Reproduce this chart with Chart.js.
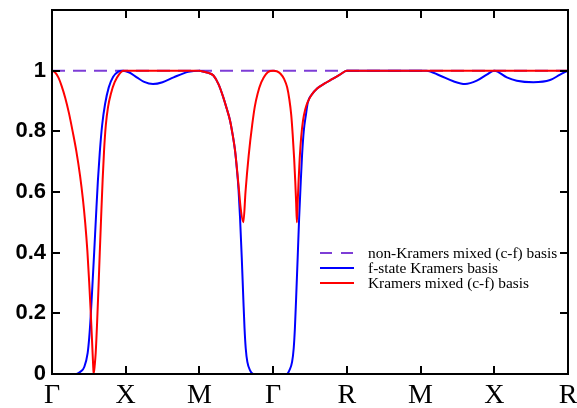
<!DOCTYPE html>
<html>
<head>
<meta charset="utf-8">
<script src="https://cdn.jsdelivr.net/npm/chart.js@4.4.0/dist/chart.umd.min.js"></script>
<style>
  html, body { margin: 0; padding: 0; background: #fff; }
  #plot { display: block; }
</style>
</head>
<body>
<canvas id="plot" width="577" height="408"></canvas>
<script>
// path labels along the bottom, value labels on the left
const xTickLabels = ['Γ', 'X', 'M', 'Γ', 'R', 'M', 'X', 'R'];
const yTickLabels = ['0', '0.2', '0.4', '0.6', '0.8', '1', ''];
const seriesNames = ['non-Kramers mixed (c-f) basis', 'f-state Kramers basis', 'Kramers mixed (c-f) basis'];

// non-Kramers mixed basis (dashed)
const dashX = [0, 7];
const dashY = [1, 1];

// f-state Kramers basis
const blueX = [0, 0.33, 0.389, 0.439, 0.484, 0.505, 0.525, 0.548, 0.572, 0.597, 0.622, 0.648, 0.68, 0.72, 0.77, 0.83, 0.9, 0.96,
  1.05, 1.15, 1.25, 1.37, 1.5, 1.65, 1.85, 2.0,
  2.05, 2.12, 2.19, 2.26, 2.324, 2.37, 2.415, 2.45, 2.483, 2.51, 2.53, 2.551, 2.574, 2.596, 2.612, 2.628, 2.65, 2.687, 2.732,
  3.185, 3.22, 3.257, 3.279, 3.295, 3.311, 3.333, 3.352, 3.372, 3.392, 3.415, 3.445, 3.47, 3.52, 3.6, 3.7, 3.8, 3.9, 4.0,
  5.08, 5.26, 5.445, 5.604, 5.763, 5.898, 6.0, 6.17, 6.305, 6.53, 6.757, 6.893, 7.0];
const blueY = [0, 0, 0.008, 0.024, 0.07, 0.12, 0.19, 0.29, 0.40, 0.52, 0.635, 0.73, 0.82, 0.89, 0.945, 0.98, 0.997, 1.0,
  0.994, 0.978, 0.963, 0.956, 0.962, 0.978, 0.996, 1.0,
  0.997, 0.993, 0.984, 0.955, 0.912, 0.875, 0.836, 0.79, 0.737, 0.67, 0.61, 0.515, 0.385, 0.245, 0.15, 0.085, 0.04, 0.012, 0,
  0, 0.012, 0.04, 0.085, 0.15, 0.245, 0.385, 0.51, 0.62, 0.72, 0.8, 0.855, 0.895, 0.92, 0.942, 0.958, 0.972, 0.986, 1.0,
  1.0, 0.984, 0.965, 0.956, 0.967, 0.987, 1.0, 0.978, 0.967, 0.962, 0.969, 0.987, 1.0];

// Kramers mixed basis
const redX = [0, 0.04, 0.086, 0.13, 0.18, 0.23, 0.28, 0.33, 0.38, 0.42, 0.45, 0.48, 0.505, 0.525, 0.545, 0.56, 0.565,
  0.58, 0.593, 0.612, 0.63, 0.648, 0.667, 0.687, 0.707, 0.73, 0.76, 0.8, 0.85, 0.91, 0.97, 2.0,
  2.05, 2.12, 2.19, 2.26, 2.324, 2.37, 2.415, 2.45, 2.483, 2.51, 2.535, 2.56, 2.596,
  2.625, 2.645, 2.668, 2.69, 2.715, 2.75, 2.79, 2.84, 2.9, 2.96, 3.0,
  3.05, 3.1, 3.15, 3.19, 3.22, 3.245, 3.265, 3.285, 3.3, 3.312, 3.322,
  3.332, 3.345, 3.36, 3.38, 3.405, 3.435, 3.47, 3.52, 3.6, 3.7, 3.8, 3.9, 4.0, 7.0];
const redY = [1, 0.995, 0.978, 0.95, 0.91, 0.86, 0.8, 0.735, 0.655, 0.575, 0.5, 0.405, 0.3, 0.205, 0.1, 0.02, 0,
  0.03, 0.07, 0.17, 0.28, 0.40, 0.52, 0.64, 0.74, 0.82, 0.88, 0.925, 0.962, 0.988, 1.0, 1.0,
  0.997, 0.993, 0.984, 0.955, 0.912, 0.875, 0.836, 0.79, 0.737, 0.675, 0.61, 0.545, 0.5,
  0.6, 0.66, 0.72, 0.77, 0.82, 0.88, 0.925, 0.962, 0.988, 0.999, 1.0,
  0.998, 0.99, 0.972, 0.945, 0.905, 0.855, 0.79, 0.71, 0.635, 0.565, 0.5,
  0.56, 0.635, 0.71, 0.78, 0.835, 0.872, 0.897, 0.92, 0.942, 0.958, 0.972, 0.986, 1.0, 1.0];

const dashColor = '#7d3dd6';
const blueColor = '#0000ff';
const redColor = '#ff0000';

const toPoints = (xs, ys) => xs.map((x, i) => ({ x: x, y: ys[i] }));

// box round the plot, ticks pointing inwards, legend inside the plot
const framePlugin = {
    id: 'frame',
    afterDatasetsDraw(chart) {
        const ctx = chart.ctx;
        const a = chart.chartArea;
        const xs = chart.scales.x;
        const ys = chart.scales.y;
        ctx.save();
        ctx.strokeStyle = '#000';
        ctx.lineWidth = 2;
        ctx.beginPath();
        xs.ticks.forEach(t => {
            const px = Math.round(xs.getPixelForValue(t.value));
            ctx.moveTo(px, a.bottom); ctx.lineTo(px, a.bottom - 8);
            ctx.moveTo(px, a.top); ctx.lineTo(px, a.top + 8);
        });
        ys.ticks.forEach(t => {
            const py = Math.round(ys.getPixelForValue(t.value));
            ctx.moveTo(a.left, py); ctx.lineTo(a.left + 8, py);
            ctx.moveTo(a.right, py); ctx.lineTo(a.right - 8, py);
        });
        ctx.stroke();
        ctx.strokeRect(a.left, a.top, a.right - a.left, a.bottom - a.top);

        const rows = [
            { name: seriesNames[0], color: dashColor, dash: [12, 9] },
            { name: seriesNames[1], color: blueColor, dash: [] },
            { name: seriesNames[2], color: redColor, dash: [] },
        ];
        ctx.font = '15.4px "Liberation Serif"';
        ctx.textBaseline = 'middle';
        ctx.textAlign = 'left';
        rows.forEach((r, i) => {
            const y = 253 + i * 15;
            ctx.strokeStyle = r.color;
            ctx.setLineDash(r.dash);
            ctx.beginPath();
            ctx.moveTo(320, y); ctx.lineTo(354, y);
            ctx.stroke();
            ctx.setLineDash([]);
            ctx.fillStyle = '#000';
            ctx.fillText(r.name, 368, y + 1);
        });
        ctx.restore();
    },
};

new Chart(document.getElementById('plot').getContext('2d'), {
    type: 'line',
    data: {
        datasets: [
            {
                label: seriesNames[0],
                data: toPoints(dashX, dashY),
                borderColor: dashColor,
                borderWidth: 2,
                borderDash: [13, 8],
                pointRadius: 0,
                order: 3,
            },
            {
                label: seriesNames[1],
                data: toPoints(blueX, blueY),
                borderColor: blueColor,
                borderWidth: 2,
                pointRadius: 0,
                cubicInterpolationMode: 'monotone',
                order: 2,
            },
            {
                label: seriesNames[2],
                data: toPoints(redX, redY),
                borderColor: redColor,
                borderWidth: 2,
                pointRadius: 0,
                cubicInterpolationMode: 'monotone',
                order: 1,
            },
        ],
    },
    options: {
        responsive: false,
        animation: false,
        devicePixelRatio: 1,
        layout: { padding: { top: 10, right: 9, left: 0, bottom: 0 } },
        plugins: {
            legend: { display: false },
            tooltip: { enabled: false },
        },
        scales: {
            x: {
                type: 'linear',
                min: 0,
                max: 7,
                grid: { display: false, drawTicks: false },
                border: { display: false },
                ticks: {
                    stepSize: 1,
                    autoSkip: false,
                    maxRotation: 0,
                    padding: 5,
                    color: '#000',
                    font: { family: '"Liberation Serif"', size: 28 },
                    callback: (v, i) => xTickLabels[i],
                },
                afterFit: s => { s.height = 34; s.paddingLeft = 0; s.paddingRight = 0; },
            },
            y: {
                min: 0,
                max: 1.2,
                grid: { display: false, drawTicks: false },
                border: { display: false },
                ticks: {
                    stepSize: 0.2,
                    padding: 6,
                    color: '#000',
                    font: { family: '"Liberation Sans"', size: 22, weight: 'bold' },
                    callback: (v, i) => yTickLabels[i],
                },
                afterFit: s => { s.width = 52; s.paddingTop = 0; s.paddingBottom = 0; },
            },
        },
    },
    plugins: [framePlugin],
});
</script>
</body>
</html>
